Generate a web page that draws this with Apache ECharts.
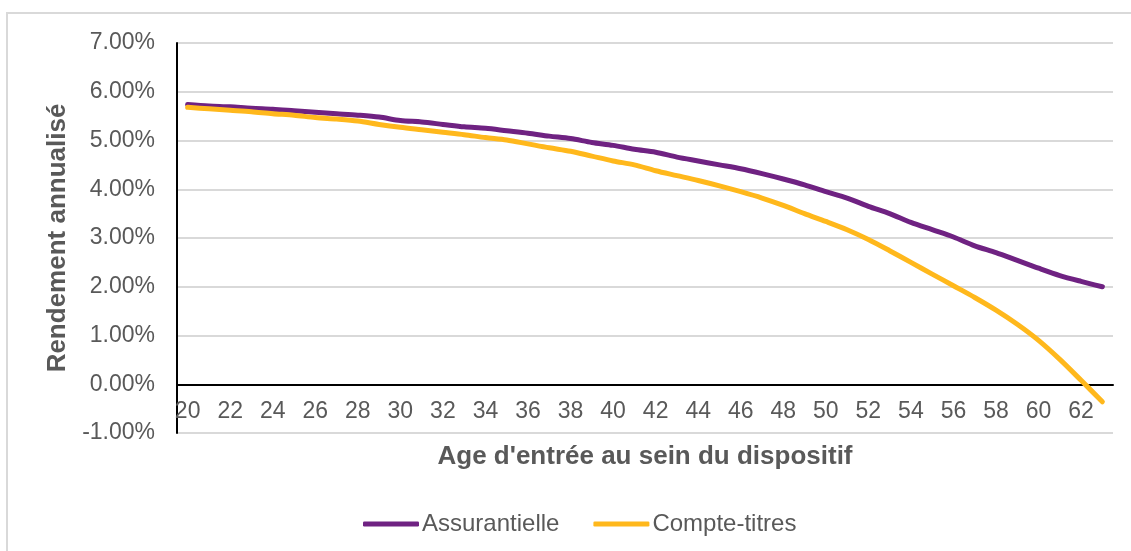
<!DOCTYPE html>
<html>
<head>
<meta charset="utf-8">
<script src="https://cdn.jsdelivr.net/npm/echarts@6/dist/echarts.min.js"></script>
<style>
html,body{margin:0;padding:0;background:#fff;}
#c{width:1131px;height:551px;}
</style>
</head>
<body>
<div id="c"></div>
<script>
const ages = [20,21,22,23,24,25,26,27,28,29,30,31,32,33,34,35,36,37,38,39,40,41,42,43,44,45,46,47,48,49,50,51,52,53,54,55,56,57,58,59,60,61,62,63];
const assurantielle = [5.74,5.71,5.69,5.66,5.64,5.61,5.58,5.55,5.52,5.48,5.41,5.38,5.33,5.28,5.25,5.20,5.15,5.09,5.04,4.96,4.90,4.82,4.76,4.66,4.58,4.50,4.42,4.32,4.21,4.09,3.95,3.82,3.65,3.50,3.32,3.17,3.02,2.84,2.70,2.54,2.38,2.23,2.11,2.00];
const compteTitres = [5.68,5.65,5.62,5.59,5.55,5.52,5.47,5.44,5.40,5.33,5.27,5.22,5.17,5.12,5.06,5.01,4.93,4.85,4.78,4.68,4.58,4.50,4.38,4.28,4.18,4.07,3.95,3.82,3.67,3.50,3.34,3.17,2.97,2.74,2.50,2.26,2.02,1.78,1.52,1.23,0.90,0.51,0.08,-0.36];
const seriesNames = ['Assurantielle','Compte-titres'];
const yTicks = {min:-1, max:7, interval:1};

const FONT = '"Liberation Sans", Arial, sans-serif';
const TXT = '#595959';
const chart = echarts.init(document.getElementById('c'), null, {renderer:'canvas'});
chart.setOption({
  animation:false,
  backgroundColor:'#fff',
  textStyle:{fontFamily:FONT},
  graphic:[{type:'rect', shape:{x:7,y:13,width:1200,height:600}, style:{fill:'none', stroke:'#D9D9D9', lineWidth:2}, silent:true}],
  grid:{left:177, right:18, top:43, bottom:118},
  legend:{
    data:seriesNames, top:507, left:358, icon:'roundRect',
    itemWidth:56, itemHeight:5, itemGap:34,
    textStyle:{color:TXT, fontSize:24, fontFamily:FONT, padding:[0,0,0,-2]}
  },
  xAxis:{
    type:'category', data:ages, boundaryGap:true,
    name:"Age d'entrée au sein du dispositif", nameLocation:'middle', nameGap:11,
    nameTextStyle:{color:TXT, fontSize:26, fontWeight:'bold', fontFamily:FONT},
    axisLine:{onZero:true, lineStyle:{color:'#000', width:2}},
    axisTick:{show:false},
    axisLabel:{interval:1, color:TXT, fontSize:23, margin:-33, fontFamily:FONT},
    splitLine:{show:false}
  },
  yAxis:{
    type:'value', min:yTicks.min, max:yTicks.max, interval:yTicks.interval,
    name:'Rendement annualisé', nameLocation:'middle', nameGap:100, nameRotate:90,
    nameTextStyle:{color:TXT, fontSize:26, fontWeight:'bold', fontFamily:FONT},
    axisLine:{show:true, lineStyle:{color:'#000', width:2}},
    axisTick:{show:false},
    axisLabel:{color:TXT, fontSize:23, margin:22, fontFamily:FONT, formatter:v=>v.toFixed(2)+'%'},
    splitLine:{lineStyle:{color:'#D9D9D9', width:2}}
  },
  series:[
    {name:seriesNames[0], type:'line', data:assurantielle, smooth:0.3, symbol:'none',
     lineStyle:{color:'#6F2282', width:5, cap:'round', join:'round'}, itemStyle:{color:'#6F2282'}},
    {name:seriesNames[1], type:'line', data:compteTitres, smooth:0.3, symbol:'none',
     lineStyle:{color:'#FFB81C', width:5, cap:'round', join:'round'}, itemStyle:{color:'#FFB81C'}}
  ]
});
</script>
</body>
</html>
